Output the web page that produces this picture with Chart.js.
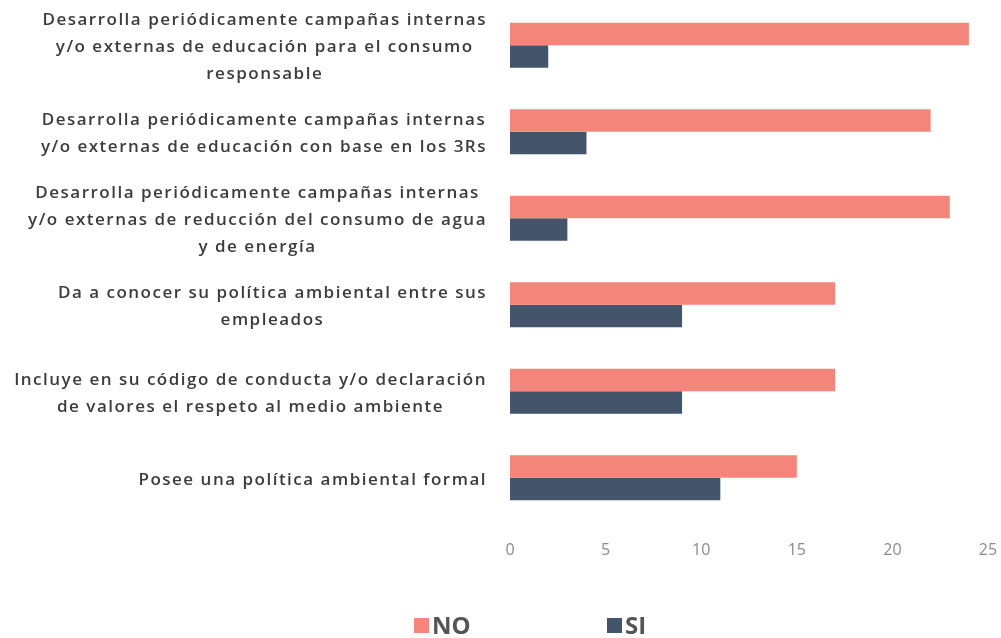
<!DOCTYPE html>
<html>
<head>
<meta charset="utf-8">
<script src="https://cdn.jsdelivr.net/npm/chart.js@4/dist/chart.umd.min.js"></script>
<style>
  html, body { margin: 0; padding: 0; background: #fff; }
  #wrap { position: relative; width: 1001px; height: 638px; }
  #chart { position: absolute; left: 0; top: 0; }
  .legend-item { position: absolute; top: 609px; font-family: "Open Sans", sans-serif; font-weight: 700; font-size: 24px; color: #555; line-height: 32px; }
  .legend-item i { display: inline-block; width: 15px; height: 15px; margin-right: 3px; vertical-align: 1px; }
</style>
</head>
<body>
<div id="wrap">
  <canvas id="chart" width="1001" height="638"></canvas>
  <div class="legend-item" id="leg0" style="left:414px"></div>
  <div class="legend-item" id="leg1" style="left:607px"></div>
</div>
<script>
// Categories (top to bottom), each split in lines like the original
const categories = [
  ['Desarrolla periódicamente campañas internas', 'y/o externas de educación para el consumo', 'responsable'],
  ['Desarrolla periódicamente campañas internas', 'y/o externas de educación con base en los 3Rs'],
  ['Desarrolla periódicamente campañas internas', 'y/o externas de reducción del consumo de agua', 'y de energía'],
  ['Da a conocer su política ambiental entre sus', 'empleados'],
  ['Incluye en su código de conducta y/o declaración', 'de valores el respeto al medio ambiente'],
  ['Posee una política ambiental formal']
];
const seriesNames = ['NO', 'SI'];
const noValues = [24, 22, 23, 17, 17, 15];
const siValues = [2, 4, 3, 9, 9, 11];
const xTicks = [0, 5, 10, 15, 20, 25];

const colors = ['#f4857b', '#44546a'];

// Category labels: block right-aligned to the axis, lines centred inside the block
const categoryLabels = {
  id: 'categoryLabels',
  afterDraw(chart) {
    const ctx = chart.ctx;
    const yScale = chart.scales.y;
    const right = 487;
    const lineH = 27;
    ctx.save();
    ctx.font = '600 17px "Open Sans", sans-serif';
    ctx.letterSpacing = '1.5px';
    ctx.fillStyle = '#3c3c3c';
    ctx.textAlign = 'center';
    ctx.textBaseline = 'middle';
    categories.forEach((lines, i) => {
      const cy = yScale.getPixelForValue(i) + 2;
      const w = Math.max(...lines.map(l => ctx.measureText(l).width));
      const cx = right - w / 2;
      const y0 = cy - (lines.length - 1) * lineH / 2;
      lines.forEach((l, k) => ctx.fillText(l, cx, y0 + k * lineH));
    });
    ctx.restore();
  }
};

const chart = new Chart(document.getElementById('chart'), {
  type: 'bar',
  data: {
    labels: categories.map(c => c.join(' ')),
    datasets: [
      { label: seriesNames[0], data: noValues, backgroundColor: colors[0] },
      { label: seriesNames[1], data: siValues, backgroundColor: colors[1] }
    ]
  },
  options: {
    indexAxis: 'y',
    responsive: false,
    animation: false,
    categoryPercentage: 0.52,
    barPercentage: 1,
    layout: { padding: { left: 510, right: 13, top: 2, bottom: 77 } },
    plugins: {
      legend: { display: false },
      tooltip: { enabled: false }
    },
    scales: {
      x: {
        min: 0,
        max: 25,
        afterBuildTicks: (axis) => { axis.ticks = xTicks.map(v => ({ value: v })); },
        afterFit: (axis) => {
          axis.height = 40;
          axis.paddingLeft = 0;
          axis.paddingRight = 0;
        },
        grid: { display: false },
        border: { display: false },
        ticks: {
          padding: 12,
          color: '#8c8c8c',
          font: { family: 'Open Sans', size: 16 }
        }
      },
      y: {
        afterFit: (axis) => { axis.width = 0; },
        grid: { display: false },
        border: { display: false },
        ticks: { display: false }
      }
    }
  },
  plugins: [categoryLabels]
});

// Legend
seriesNames.forEach((name, i) => {
  const el = document.getElementById('leg' + i);
  el.innerHTML = '<i style="background:' + colors[i] + '"></i>' + name;
});
</script>
</body>
</html>
